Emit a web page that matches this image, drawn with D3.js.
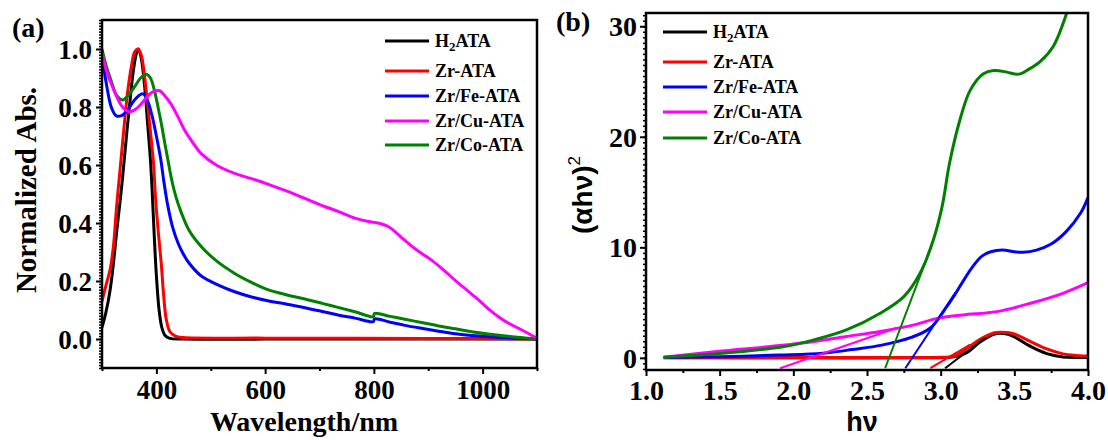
<!DOCTYPE html>
<html>
<head>
<meta charset="utf-8">
<script src="https://cdn.jsdelivr.net/npm/d3@7"></script>
<style>
  html, body { margin: 0; padding: 0; background: #fff; }
  svg { display: block; }
  text { font-family: "Liberation Serif", "Times New Roman", serif; font-weight: bold; fill: #000; }
  .sans { font-family: "Liberation Sans", Arial, sans-serif; }
</style>
</head>
<body>
<svg id="chart" width="1108" height="440"></svg>
<script>
// ---- series meta ----
const seriesNames = ["H2ATA", "Zr-ATA", "Zr/Fe-ATA", "Zr/Cu-ATA", "Zr/Co-ATA"];
const seriesColors = ["#000000", "#ff0000", "#0000ff", "#ff00ff", "#008000"];

// ---- panel (a): normalized absorbance vs wavelength [nm, abs] ----
const absH2ATA = [[300,0.04],[307,0.09],[315,0.17],[321,0.26],[327,0.37],[333,0.47],[338,0.56],[345,0.7],[352,0.83],[358,0.93],[364,0.99],[367,1.0],[372,0.97],[378,0.88],[384,0.74],[389,0.62],[392,0.52],[396,0.36],[400,0.22],[405,0.1],[410,0.04],[416,0.012],[425,0.002],[450,0],[700,0],[1100,0]];
const absZrATA = [[300,0.13],[308,0.19],[315,0.24],[321,0.32],[327,0.46],[333,0.58],[340,0.72],[347,0.85],[354,0.94],[360,0.99],[366,1.0],[372,0.98],[378,0.91],[385,0.79],[391,0.68],[395,0.6],[398,0.5],[403,0.38],[409,0.26],[413,0.16],[418,0.07],[425,0.025],[435,0.01],[450,0.005],[600,0.003],[900,0.002],[1100,0]];
const absZrFeATA = [[300,0.98],[308,0.88],[317,0.8],[326,0.77],[336,0.77],[347,0.79],[358,0.82],[368,0.84],[376,0.845],[384,0.82],[392,0.77],[400,0.7],[408,0.62],[414,0.54],[421,0.46],[430,0.385],[440,0.33],[448,0.298],[460,0.262],[482,0.218],[515,0.185],[544,0.163],[575,0.145],[605,0.132],[640,0.12],[673,0.108],[705,0.095],[734,0.083],[765,0.072],[799,0.06],[801,0.069],[830,0.058],[857,0.047],[890,0.036],[919,0.027],[950,0.018],[980,0.012],[1020,0.007],[1060,0.003],[1100,0]];
const absZrCuATA = [[300,0.985],[309,0.92],[317,0.88],[326,0.84],[335,0.807],[343,0.79],[350,0.784],[360,0.79],[372,0.81],[385,0.84],[396,0.855],[406,0.856],[415,0.84],[427,0.81],[440,0.765],[452,0.72],[466,0.68],[482,0.64],[510,0.6],[544,0.571],[575,0.553],[611,0.53],[640,0.51],[673,0.485],[705,0.46],[734,0.44],[765,0.417],[790,0.405],[808,0.4],[827,0.387],[842,0.365],[857,0.34],[880,0.305],[906,0.272],[930,0.235],[949,0.203],[970,0.17],[993,0.134],[1010,0.105],[1029,0.077],[1047,0.055],[1066,0.037],[1085,0.018],[1100,0.003]];
const absZrCoATA = [[300,1.0],[308,0.94],[317,0.89],[327,0.84],[338,0.824],[348,0.84],[360,0.87],[371,0.9],[381,0.913],[389,0.9],[396,0.86],[403,0.8],[409,0.744],[415,0.68],[421,0.62],[428,0.55],[436,0.49],[446,0.435],[460,0.375],[482,0.32],[510,0.27],[544,0.226],[575,0.195],[605,0.17],[640,0.152],[673,0.138],[705,0.123],[734,0.109],[765,0.094],[799,0.077],[801,0.088],[830,0.078],[857,0.068],[890,0.056],[919,0.045],[950,0.035],[980,0.025],[1010,0.017],[1042,0.01],[1070,0.005],[1100,0]];

// ---- panel (b): Tauc plot (alpha*h*nu)^2 vs photon energy [eV, value] ----
const taucH2ATA = [[1.12,0.0],[2.0,0.0],[2.9,0.0],[3.03,0.03],[3.1,0.12],[3.18,0.5],[3.27,1.45],[3.36,2.12],[3.4,2.22],[3.45,2.15],[3.5,1.9],[3.6,1.1],[3.72,0.38],[3.83,0.08],[3.92,0.03],[4.0,0.02]];
const taucZrATA = [[1.12,0.02],[2.0,0.02],[2.9,0.03],[3.0,0.05],[3.09,0.15],[3.18,0.87],[3.27,1.69],[3.36,2.25],[3.41,2.32],[3.49,2.2],[3.61,1.47],[3.72,0.81],[3.83,0.36],[3.92,0.22],[4.0,0.17]];
const taucZrFeATA = [[1.12,0.03],[1.5,0.1],[1.9,0.25],[2.2,0.42],[2.4,0.75],[2.6,1.15],[2.8,1.85],[2.93,2.7],[3.04,4.6],[3.1,5.8],[3.16,7.1],[3.22,8.3],[3.28,9.2],[3.34,9.6],[3.42,9.75],[3.5,9.6],[3.56,9.55],[3.65,9.75],[3.75,10.3],[3.85,11.4],[3.95,13.1],[4.0,14.5]];
const taucZrCuATA = [[1.12,0.06],[1.48,0.57],[1.91,1.11],[2.14,1.47],[2.36,1.93],[2.59,2.38],[2.82,2.98],[2.97,3.55],[3.15,3.88],[3.38,4.18],[3.61,4.94],[3.83,5.84],[4.0,6.8]];
const taucZrCoATA = [[1.12,0.06],[1.48,0.36],[1.93,1.0],[2.14,1.63],[2.36,2.53],[2.59,4.04],[2.75,5.54],[2.86,7.65],[2.95,10.66],[3.01,13.7],[3.06,17.6],[3.13,21.5],[3.2,24.2],[3.29,25.7],[3.36,26.0],[3.45,25.85],[3.516,25.65],[3.55,25.74],[3.585,26.0],[3.675,26.8],[3.765,28.2],[3.856,31.2],[3.9,33.0]];

// band-gap extrapolation lines
const fitH2ATA = [[3.03,-0.94],[3.3,1.8]];
const fitZrATA = [[2.93,-0.94],[3.2,1.2]];
const fitZrFeATA = [[2.76,-0.94],[3.1,5.9]];
const fitZrCuATA = [[1.91,-0.94],[2.7,2.7]];
const fitZrCoATA = [[2.623,-0.94],[2.94,10.2]];

// ---- ticks ----
const wlTicks = [400, 600, 800, 1000];
const wlMinor = [300, 500, 700, 900, 1100];
const absTicks = [0.0, 0.2, 0.4, 0.6, 0.8, 1.0];
const evTicks = [1.0, 1.5, 2.0, 2.5, 3.0, 3.5, 4.0];
const evMinor = [1.25, 1.75, 2.25, 2.75, 3.25, 3.75];
const taucTicks = [0, 10, 20, 30];

const svg = d3.select("#chart");

function drawPanel(cfg) {
  const g = svg.append("g");
  const x = d3.scaleLinear().domain(cfg.xDomain).range([cfg.left, cfg.right]);
  const y = d3.scaleLinear().domain(cfg.yDomain).range([cfg.bottom, cfg.top]);

  const clipId = "clip-" + cfg.id;
  svg.append("clipPath").attr("id", clipId)
    .append("rect").attr("x", cfg.left).attr("y", cfg.top)
    .attr("width", cfg.right - cfg.left).attr("height", cfg.bottom - cfg.top);

  const line = d3.line().x(d => x(d[0])).y(d => y(d[1])).curve(d3.curveCatmullRom.alpha(0.5));
  const straight = d3.line().x(d => x(d[0])).y(d => y(d[1]));

  const plot = g.append("g").attr("clip-path", `url(#${clipId})`);
  cfg.order.forEach(i => {
    plot.append("path").datum(cfg.series[i])
      .attr("fill", "none").attr("stroke", seriesColors[i])
      .attr("stroke-width", 3).attr("stroke-linejoin", "round")
      .attr("d", line);
  });
  if (cfg.fits) {
    cfg.fits.forEach((f, i) => {
      plot.append("path").datum(f)
        .attr("fill", "none").attr("stroke", seriesColors[i])
        .attr("stroke-width", 2).attr("d", straight);
    });
  }

  // minor ticks
  const yMinorVals = d3.range(cfg.yMinor[0], cfg.yMinor[1] + 1e-9, cfg.yMinor[2]);
  g.append("g").attr("transform", `translate(${cfg.left},0)`)
    .call(d3.axisLeft(y).tickValues(yMinorVals).tickSize(3).tickFormat(""))
    .call(s => s.select(".domain").remove())
    .call(s => s.selectAll("line").attr("stroke-width", 1.5));
  g.append("g").attr("transform", `translate(0,${cfg.bottom})`)
    .call(d3.axisBottom(x).tickValues(cfg.xMinor).tickSize(3).tickFormat(""))
    .call(s => s.select(".domain").remove())
    .call(s => s.selectAll("line").attr("stroke-width", 2));

  // major ticks + labels
  g.append("g").attr("transform", `translate(${cfg.left},0)`)
    .call(d3.axisLeft(y).tickValues(cfg.yTicks).tickSize(6).tickPadding(4).tickFormat(cfg.yFormat))
    .call(s => s.select(".domain").remove())
    .call(s => s.selectAll("line").attr("stroke-width", 2))
    .call(s => s.selectAll("text").attr("font-size", cfg.tickFont).attr("x", cfg.yLabelX - cfg.left)
      .attr("dy", "0.34em").attr("font-family", null).attr("fill", "#000"));
  g.append("g").attr("transform", `translate(0,${cfg.bottom})`)
    .call(d3.axisBottom(x).tickValues(cfg.xTicks).tickSize(6).tickFormat(cfg.xFormat))
    .call(s => s.select(".domain").remove())
    .call(s => s.selectAll("line").attr("stroke-width", 2))
    .call(s => s.selectAll("text").attr("font-size", cfg.tickFont).attr("y", cfg.xLabelBase - cfg.bottom)
      .attr("dy", null).attr("font-family", null).attr("fill", "#000"));

  // frame
  g.append("rect").attr("x", cfg.left).attr("y", cfg.top)
    .attr("width", cfg.right - cfg.left).attr("height", cfg.bottom - cfg.top)
    .attr("fill", "none").attr("stroke", "#000").attr("stroke-width", 2.5);

  // legend
  const lg = g.append("g");
  cfg.legendRows.forEach((ry, i) => {
    lg.append("line").attr("x1", cfg.legendX).attr("x2", cfg.legendX + 44)
      .attr("y1", ry).attr("y2", ry).attr("stroke", seriesColors[i]).attr("stroke-width", 3);
    const t = lg.append("text").attr("x", cfg.legendX + 50).attr("y", ry + 6).attr("font-size", 18);
    if (seriesNames[i] === "H2ATA") {
      t.append("tspan").text("H");
      t.append("tspan").attr("font-size", 13).attr("dy", 4).text("2");
      t.append("tspan").attr("dy", -4).text("ATA");
    } else {
      t.text(seriesNames[i]);
    }
  });

  // panel label
  g.append("text").attr("x", cfg.tagX).attr("y", cfg.tagY).attr("font-size", 28).text(cfg.tag);
  return g;
}

// panel (a)
const ga = drawPanel({
  id: "a", left: 102, right: 537, top: 20, bottom: 368,
  xDomain: [300, 1100], yDomain: [-0.1, 1.1],
  series: [absH2ATA, absZrATA, absZrFeATA, absZrCuATA, absZrCoATA],
  order: [0, 1, 2, 4, 3],
  xTicks: wlTicks, xMinor: wlMinor, yTicks: absTicks, yMinor: [-0.1, 1.1, 0.01],
  xFormat: d3.format("d"), yFormat: d3.format(".1f"),
  tickFont: 27, yLabelX: 92, xLabelBase: 399,
  legendX: 385, legendRows: [41, 71, 96, 121, 145],
  tag: "(a)", tagX: 12, tagY: 37
});
ga.append("text").attr("x", 304).attr("y", 431).attr("text-anchor", "middle")
  .attr("font-size", 28).text("Wavelength/nm");
ga.append("text").attr("transform", "translate(36,190) rotate(-90)").attr("text-anchor", "middle")
  .attr("font-size", 29).text("Normalized Abs.");

// panel (b)
const gb = drawPanel({
  id: "b", left: 646, right: 1088, top: 13, bottom: 370,
  xDomain: [1.0, 4.0], yDomain: [-1.1, 31.2],
  series: [taucH2ATA, taucZrATA, taucZrFeATA, taucZrCuATA, taucZrCoATA],
  order: [0, 1, 2, 3, 4],
  fits: [fitH2ATA, fitZrATA, fitZrFeATA, fitZrCuATA, fitZrCoATA],
  xTicks: evTicks, xMinor: evMinor, yTicks: taucTicks, yMinor: [-1, 31, 0.5],
  xFormat: d3.format(".1f"), yFormat: d3.format("d"),
  tickFont: 28, yLabelX: 637, xLabelBase: 400,
  legendX: 663, legendRows: [32, 62, 87, 112, 138],
  tag: "(b)", tagX: 556, tagY: 31
});
gb.append("text").attr("class", "sans").attr("x", 862).attr("y", 431).attr("text-anchor", "middle")
  .attr("font-size", 27).text("hν");
const yt = gb.append("text").attr("class", "sans").attr("transform", "translate(592,195) rotate(-90)")
  .attr("text-anchor", "middle").attr("font-size", 28);
yt.append("tspan").text("(αhν)");
yt.append("tspan").attr("font-size", 17).attr("font-weight", "normal").attr("dy", -12).text("2");
</script>
</body>
</html>
